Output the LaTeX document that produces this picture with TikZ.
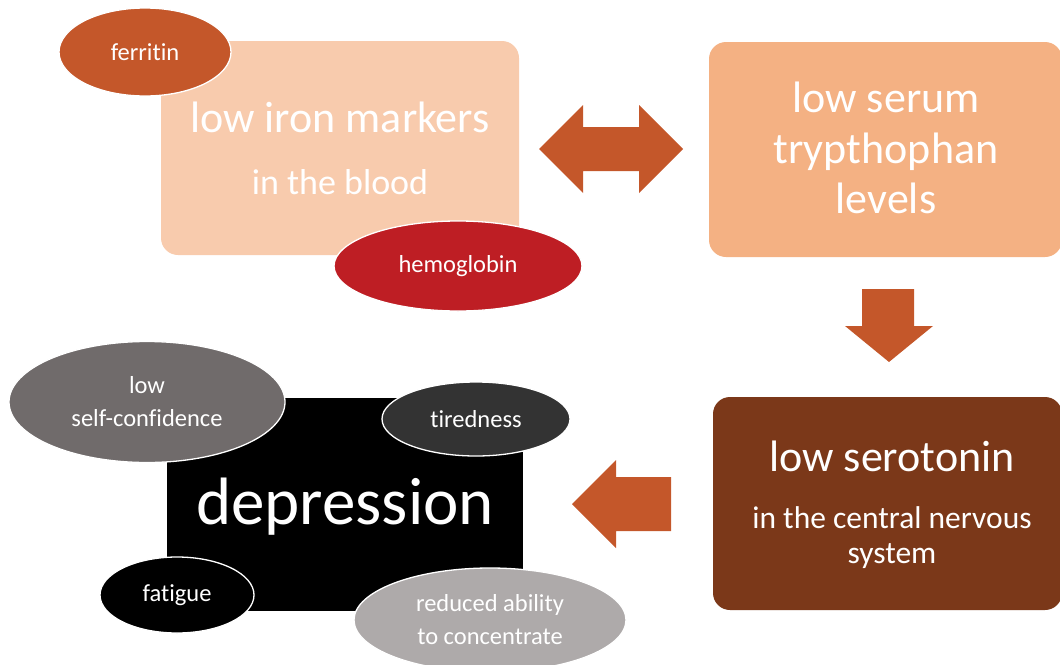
\documentclass[tikz,border=0pt]{standalone}
\usepackage{fontspec}
\setmainfont{Carlito}[Ligatures=NoCommon]
\usetikzlibrary{shapes.geometric}
\definecolor{peachA}{HTML}{F8CBAD}
\definecolor{peachB}{HTML}{F4B183}
\definecolor{brownC}{HTML}{7B3819}
\definecolor{rust}{HTML}{C4572A}
\definecolor{blood}{HTML}{BE1E24}
\definecolor{greyA}{HTML}{706B6B}
\definecolor{greyB}{HTML}{333333}
\definecolor{greyC}{HTML}{AEAAAA}
\begin{document}
\begin{tikzpicture}[x=1pt,y=-1pt,
  panel/.style={rectangle, rounded corners=17pt, inner sep=0pt},
  oval/.style={ellipse, draw=white, line width=1.3pt, inner sep=0pt, text=white, align=center,
    font=\fontsize{24.5}{33}\selectfont},
  bigtxt/.style={anchor=base, text=white, inner sep=0pt, font=\fontsize{44}{50}\selectfont},
  midtxt/.style={anchor=base, text=white, inner sep=0pt, font=\fontsize{31.5}{35}\selectfont},
  blockarrow/.style={fill=rust}]
\useasboundingbox (0,0) rectangle (1060,664);
% boxes
\node[panel, fill=peachA, minimum width=358, minimum height=214] (iron) at (340,148) {};
\node[panel, fill=peachB, minimum width=353, minimum height=215] (tryp) at (885.5,149.5) {};
\node[panel, fill=brownC, minimum width=349, minimum height=213] (sero) at (887.5,503.5) {};
\node[rectangle, fill=black, minimum width=356, minimum height=213, inner sep=0pt] (dep) at (345,504.5) {};
% box texts
\node[bigtxt] (ironA) at (340,132) {low iron markers};
\node[midtxt, font=\fontsize{36}{40}\selectfont] (ironB) at (340,194) {in the blood};
\node[bigtxt] (trypA) at (886,112) {low serum};
\node[bigtxt] (trypB) at (886,163) {trypthophan};
\node[bigtxt] (trypC) at (886,213) {levels};
\node[bigtxt] (seroA) at (892,471) {low serotonin};
\node[midtxt] (seroB) at (892,528) {in the central nervous};
\node[midtxt] (seroC) at (892,563) {system};
\node[anchor=base, text=white, inner sep=0pt, font=\fontsize{67}{70}\selectfont] (depT) at (345,524) {depression};
% ellipses
\node[oval, fill=rust, minimum width=172, minimum height=88] (ferr) at (145,52) {ferritin};
\node[oval, fill=blood, minimum width=248, minimum height=90] (hemo) at (458,266) {\raisebox{2pt}{hemoglobin}};
\node[oval, fill=greyA, minimum width=276, minimum height=121] (conf) at (147,402) {low\\self-confidence};
\node[oval, fill=greyB, minimum width=188, minimum height=74] (tired) at (476,419) {tiredness};
\node[oval, fill=black, minimum width=154, minimum height=76] (fat) at (177,595) {fatigue};
\node[oval, fill=greyC, minimum width=272, minimum height=104] (conc) at (490,620) {reduced ability\\to concentrate};
% block arrows
\fill[blockarrow] (539,149) -- (583,105) -- (583,127) -- (639,127) -- (639,105) -- (683,149)
  -- (639,193) -- (639,171) -- (583,171) -- (583,193) -- cycle;
\fill[blockarrow] (862,289) -- (914,289) -- (914,326) -- (933,326) -- (889,362)
  -- (845,326) -- (862,326) -- cycle;
\fill[blockarrow] (572,504) -- (616,460) -- (616,477) -- (671,477) -- (671,531)
  -- (616,531) -- (616,548) -- cycle;
\end{tikzpicture}
\end{document}
